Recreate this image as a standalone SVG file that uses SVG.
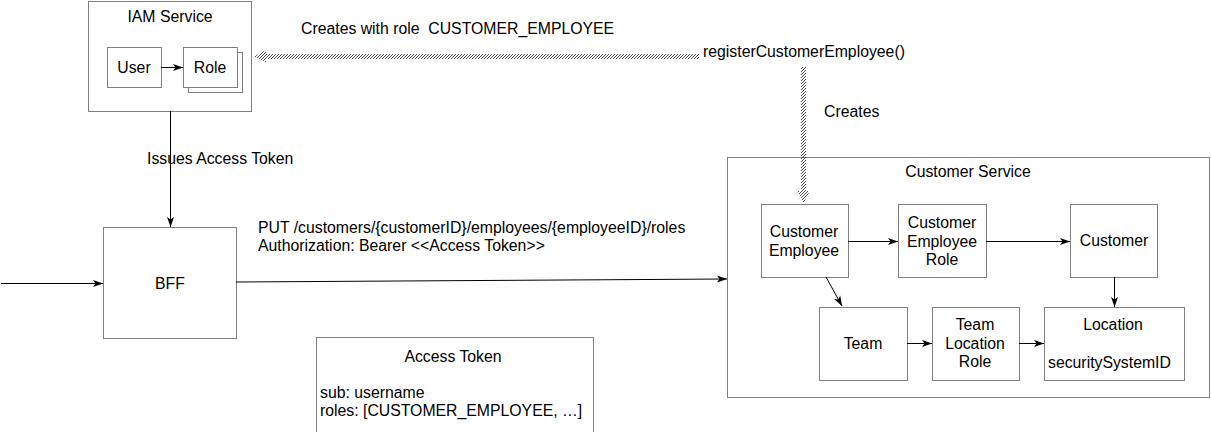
<svg xmlns="http://www.w3.org/2000/svg" width="1211" height="432" viewBox="0 0 1211 432">
<style>
text{font-family:"Liberation Sans",Arial,sans-serif;font-size:15.8px;fill:#000;white-space:pre}
.box{fill:#fff;stroke:#808080;stroke-width:1}
.c{text-anchor:middle}
.ln{stroke:#000;stroke-width:1;fill:none}
</style>
<defs>
<marker id="ah" viewBox="0 0 10 10" refX="10" refY="5" markerWidth="10" markerHeight="10" markerUnits="userSpaceOnUse" orient="auto">
<path d="M0,1.5 L10,5 L0,8.5 L2.5,5 Z" fill="#000"/>
</marker>
<pattern id="hatch" patternUnits="userSpaceOnUse" width="3" height="3">
<path d="M-1,1 L1,-1 M0,3 L3,0 M2,4 L4,2" stroke="#000" stroke-width="0.7"/>
</pattern>
</defs>
<rect width="1211" height="432" fill="#fff"/>

<g id="iam">
<rect class="box" x="88.5" y="1.5" width="163" height="110"/>
<text class="c" x="170" y="22">IAM Service</text>
</g>
<g id="user">
<rect class="box" x="107.5" y="47.5" width="54" height="40"/>
<text class="c" x="134" y="73">User</text>
</g>
<g id="role">
<rect class="box" x="188.5" y="52.5" width="54" height="40"/>
<rect class="box" x="183.5" y="47.5" width="54" height="40"/>
<text class="c" x="210" y="73">Role</text>
</g>
<g id="bff">
<rect class="box" x="103.5" y="227.5" width="133" height="111"/>
<text class="c" x="170" y="289">BFF</text>
</g>
<g id="access-token">
<rect class="box" x="316.5" y="337.5" width="277" height="100"/>
<text class="c" x="453" y="362">Access Token</text>
<text x="320" y="398">sub: username</text>
<text x="320" y="416">roles: [CUSTOMER_EMPLOYEE, …]</text>
</g>
<g id="customer-service">
<rect class="box" x="727.5" y="157.5" width="482" height="240"/>
<text class="c" x="968" y="177">Customer Service</text>
</g>
<g id="customer-employee">
<rect class="box" x="761.5" y="204.5" width="87" height="73"/>
<text class="c" x="804" y="237">Customer</text>
<text class="c" x="804" y="256">Employee</text>
</g>
<g id="customer-employee-role">
<rect class="box" x="898.5" y="204.5" width="88" height="73"/>
<text class="c" x="942" y="228">Customer</text>
<text class="c" x="942" y="247">Employee</text>
<text class="c" x="942" y="265">Role</text>
</g>
<g id="customer">
<rect class="box" x="1070.5" y="204.5" width="87" height="73"/>
<text class="c" x="1114" y="246">Customer</text>
</g>
<g id="team">
<rect class="box" x="819.5" y="307.5" width="88" height="73"/>
<text class="c" x="863" y="349">Team</text>
</g>
<g id="team-location-role">
<rect class="box" x="932.5" y="307.5" width="87" height="73"/>
<text class="c" x="975" y="330">Team</text>
<text class="c" x="975" y="349">Location</text>
<text class="c" x="975" y="367">Role</text>
</g>
<g id="location">
<rect class="box" x="1044.5" y="307.5" width="140" height="73"/>
<text class="c" x="1113" y="330">Location</text>
<text x="1048" y="368">securitySystemID</text>
</g>

<g id="connectors">
<line class="ln" x1="161" y1="67.5" x2="183" y2="67.5" marker-end="url(#ah)"/>
<line class="ln" x1="170.5" y1="111" x2="170.5" y2="227" marker-end="url(#ah)"/>
<line class="ln" x1="1" y1="283.5" x2="103" y2="283.5" marker-end="url(#ah)"/>
<line class="ln" x1="236" y1="282" x2="727" y2="279" marker-end="url(#ah)"/>
<line class="ln" x1="848" y1="241.5" x2="898" y2="241.5" marker-end="url(#ah)"/>
<line class="ln" x1="986" y1="241.5" x2="1070" y2="241.5" marker-end="url(#ah)"/>
<line class="ln" x1="1114.5" y1="277" x2="1114.5" y2="307" marker-end="url(#ah)"/>
<line class="ln" x1="826" y1="277" x2="842" y2="306" marker-end="url(#ah)"/>
<line class="ln" x1="907" y1="343.5" x2="932" y2="343.5" marker-end="url(#ah)"/>
<line class="ln" x1="1019" y1="343.5" x2="1044" y2="343.5" marker-end="url(#ah)"/>
<rect x="266" y="54" width="433" height="5" fill="url(#hatch)"/>
<polygon points="254,56.5 266,50 266,63" fill="url(#hatch)"/>
<rect x="801" y="67" width="5" height="124" fill="url(#hatch)"/>
<polygon points="803.5,203 797,191 810,191" fill="url(#hatch)"/>
<text x="301" y="34">Creates with role  CUSTOMER_EMPLOYEE</text>
<text x="703" y="57">registerCustomerEmployee()</text>
<text x="824" y="117">Creates</text>
<text x="147" y="164">Issues Access Token</text>
<text x="258" y="233">PUT /customers/{customerID}/employees/{employeeID}/roles</text>
<text x="258" y="251">Authorization: Bearer &lt;&lt;Access Token&gt;&gt;</text>
</g>
</svg>
